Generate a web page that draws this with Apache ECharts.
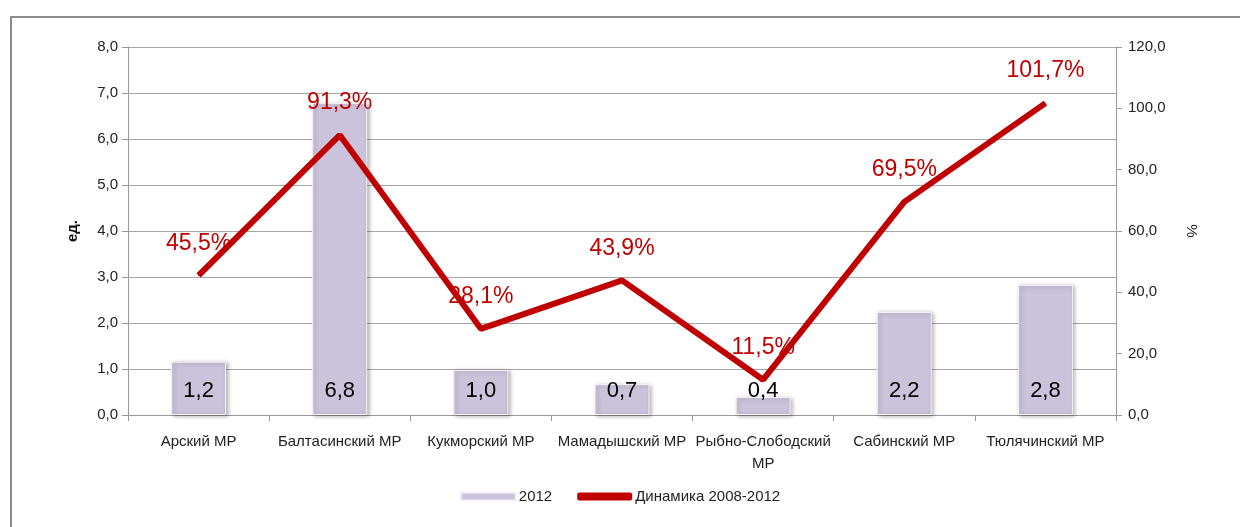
<!DOCTYPE html>
<html>
<head>
<meta charset="utf-8">
<script src="https://cdn.jsdelivr.net/npm/echarts@6/dist/echarts.min.js"></script>
<style>
  html, body { margin: 0; padding: 0; background: #fff; }
  #frame { position: absolute; left: 10px; top: 16px; width: 1240px; height: 520px; border: 2px solid #8c8c8c; box-sizing: border-box; }
  #main { position: absolute; left: 0; top: 0; width: 1240px; height: 527px; }
</style>
</head>
<body>
<div id="frame"></div>
<div id="main"></div>
<script>
// districts
var categories = ['Арский МР', 'Балтасинский МР', 'Кукморский МР', 'Мамадышский МР', 'Рыбно-Слободский МР', 'Сабинский МР', 'Тюлячинский МР'];
// 2012, units (left axis)
var values2012 = [1.16, 6.78, 0.98, 0.67, 0.39, 2.24, 2.83];
// dynamics 2008-2012, % (right axis)
var dynamics = [45.5, 91.3, 28.1, 43.9, 11.5, 69.5, 101.7];

var font = 'Liberation Sans, Arial, sans-serif';
function comma(v, d) { return v.toFixed(d).replace('.', ','); }

var myChart = echarts.init(document.getElementById('main'));
var option = {
  animation: false,
  textStyle: { fontFamily: font },
  grid: { left: 128, right: 124, top: 47, bottom: 112 },
  legend: {
    bottom: 18,
    left: 'center',
    itemGap: 25,
    textStyle: { fontSize: 15, color: '#222', fontFamily: font, padding: [0, 0, 0, -2] },
    data: [
      { name: '2012', icon: 'rect', itemStyle: { color: '#cbc3db' } },
      { name: 'Динамика 2008-2012', icon: 'roundRect' }
    ],
    itemWidth: 55,
    itemHeight: 8
  },
  xAxis: {
    type: 'category',
    data: categories,
    axisLine: { lineStyle: { color: '#999' } },
    axisTick: { show: true, length: 6, lineStyle: { color: '#999' } },
    axisLabel: {
      interval: 0, color: '#222', fontSize: 15, margin: 16, lineHeight: 22,
      formatter: function (v) {
        if (v.length > 16) { var i = v.lastIndexOf(' '); return v.slice(0, i) + '\n' + v.slice(i + 1); }
        return v;
      }
    }
  },
  yAxis: [
    {
      type: 'value', min: 0, max: 8, interval: 1,
      name: 'ед.', nameLocation: 'middle', nameGap: 48, nameRotate: 90,
      nameTextStyle: { fontSize: 15, fontWeight: 'bold', color: '#111' },
      axisLine: { show: true, lineStyle: { color: '#999' } },
      axisTick: { show: true, length: 6, lineStyle: { color: '#999' } },
      axisLabel: { color: '#222', fontSize: 15, margin: 10, formatter: function (v) { return comma(v, 1); } },
      splitLine: { lineStyle: { color: '#a6a6a6' } }
    },
    {
      type: 'value', min: 0, max: 120, interval: 20,
      name: '%', nameLocation: 'middle', nameGap: 68, nameRotate: -90,
      nameTextStyle: { fontSize: 15, color: '#222' },
      axisLine: { show: true, lineStyle: { color: '#999' } },
      axisTick: { show: true, length: 6, lineStyle: { color: '#999' } },
      axisLabel: { color: '#222', fontSize: 15, margin: 12, formatter: function (v) { return comma(v, 1); } },
      splitLine: { show: false }
    }
  ],
  series: [
    {
      name: '2012',
      type: 'bar',
      yAxisIndex: 0,
      data: values2012,
      barWidth: 55,
      itemStyle: {
        color: '#cbc3db',
        borderColor: '#f4f2f8', borderWidth: 1,
        shadowBlur: 4, shadowColor: 'rgba(0,0,0,0.3)', shadowOffsetX: 2, shadowOffsetY: 1
      },
      label: {
        show: true, position: 'insideBottom', distance: 13,
        color: '#000', fontSize: 22,
        formatter: function (p) { return comma(p.value, 1); }
      },
      z: 2
    },
    {
      name: 'Динамика 2008-2012',
      type: 'line',
      yAxisIndex: 1,
      data: dynamics,
      symbol: 'circle',
      symbolSize: 1,
      showSymbol: true,
      lineStyle: { color: '#c00000', width: 6 },
      itemStyle: { color: '#c00000' },
      label: {
        show: true, position: 'top', distance: 20,
        color: '#c00000', fontSize: 23,
        formatter: function (p) { return comma(p.value, 1) + '%'; }
      },
      labelLayout: { hideOverlap: false },
      z: 3
    }
  ]
};
myChart.setOption(option);
</script>
</body>
</html>
